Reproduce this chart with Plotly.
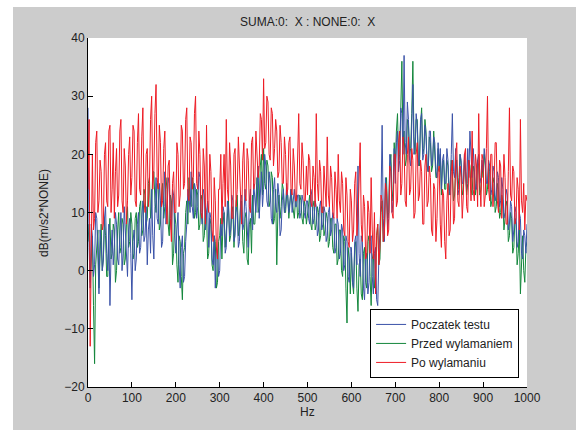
import plotly.graph_objects as go

# Frequency axis (Hz), 2.5 Hz steps
hz = [i * 2.5 for i in range(401)]

poczatek_testu = [
    28, 4, -3, 8, 6, -1, 1, 10, 9, 2, -4, 7, 5, 0, 2, 9, 11, 3, 0, 8,
    -6, 3, 7, 1, 4, 10, 8, 2, 1, 6, 10, 0, 3, 11, 6, 2, -1, 7, 9, 3,
    -5, 5, 7, 0, 2, 8, 10, 3, 4, 9, 12, 5, 6, 11, 1, 7, 9, 3, 14, 6,
    2, 11, 16, 9, 8, 15, 12, 4, 5, 13, 17, 8, 10, 16, 15, 9, 7, 14, 13, 6,
    3, 7, 10, 1, -3, 4, 6, -2, -1, 5, 8, 14, 13, 10, 17, 11, 9, 15, 14, 9,
    11, 17, 16, 10, 8, 14, 13, 7, 10, 12, 4, 10, 9, 2, 1, 6, -3, 4, 3, -1,
    0, 8, 6, 11, 10, 3, 4, 12, 11, 6, 7, 13, 12, 5, 6, 11, 10, 4, 5, 12,
    13, 7, 8, 14, 11, 6, 4, 12, 14, 9, 7, 15, 12, 10, 15, 18, 9, 14, 17, 11,
    14, 20, 18, 12, 11, 17, 15, 9, 8, 14, 16, 11, 10, 15, 13, 6, 7, 12, 14, 10,
    11, 15, 13, 10, 12, 14, 10, 13, 14, 11, 11, 13, 13, 9, 10, 13, 12, 10, 9, 12,
    12, 9, 8, 14, 13, 8, 9, 12, 11, 6, 7, 11, 12, 7, 8, 11, 10, 5, 6, 10,
    11, 6, 7, 10, 9, 3, 4, 9, 8, 2, 3, 8, 7, 0, 1, 6, 5, -1, -2, 4,
    4, -2, -3, 5, 6, 1, 18, 3, -1, 6, 5, -3, -5, 2, 3, -4, -2, 5, 6, -1,
    -4, 3, 4, -5, -6, 2, 8, 12, 25, 9, 5, 16, 14, 7, 9, 20, 18, 10, 12, 21,
    15, 22, 24, 17, 19, 28, 27, 20, 37, 22, 20, 29, 26, 19, 18, 25, 32, 20, 21, 27,
    25, 18, 19, 26, 27, 19, 20, 25, 23, 18, 17, 24, 24, 18, 19, 23, 22, 17, 16, 22,
    18, 21, 14, 19, 20, 15, 15, 21, 19, 14, 13, 20, 27, 17, 16, 21, 18, 13, 14, 20,
    19, 15, 15, 20, 17, 14, 21, 16, 24, 18, 16, 21, 18, 14, 14, 19, 20, 15, 16, 19,
    17, 21, 19, 15, 15, 19, 18, 13, 14, 18, 17, 12, 13, 17, 16, 11, 12, 16, 14, 9,
    10, 14, 13, 7, 8, 12, 11, 5, 7, 11, 10, 4, 5, 10, 9, 3, 2, 7, 6, 3,
    8,
]

przed_wylamaniem = [
    5, 8, -2, 3, 6, -6, -16, 1, 4, 7, -3, 5, 8, 0, 2, 9, 6, -1, -1, 6,
    9, 2, 3, 8, 7, -2, 0, 7, 10, 3, 4, 9, 8, 1, 2, 8, 11, 4, 5, 10,
    8, 2, 3, 9, 10, 4, 5, 11, 12, 6, 7, 14, 13, 8, 9, 15, 16, 9, 11, 17,
    17, 12, 10, 15, 14, 7, 8, 13, 15, 9, 11, 16, 14, 8, 6, 13, 12, 1, 3, 10,
    8, 1, -2, 6, 5, -1, -5, 3, 4, 10, 12, 8, 16, 12, 11, 16, 15, 9, 10, 14,
    13, 7, 8, 13, 12, 5, 6, 11, 10, 2, 3, 9, 8, 1, 0, 6, 5, -3, -2, 5,
    6, 9, 2, 8, 10, 4, 7, 11, 12, 5, 6, 10, 11, 4, 8, 12, 13, 6, 7, 11,
    12, 5, 3, 9, 10, 2, 1, 8, 9, 3, 13, 8, 8, 14, 16, 10, 11, 18, 20, 13,
    21, 15, 14, 19, 18, 11, 12, 17, 16, 8, 9, 14, 1, 10, 13, 9, 11, 15, 14, 10,
    10, 13, 13, 9, 11, 14, 12, 10, 9, 12, 13, 9, 10, 13, 12, 9, 8, 12, 11, 8,
    10, 12, 13, 8, 7, 11, 12, 7, 8, 11, 10, 5, 6, 10, 11, 6, 7, 10, 9, 4,
    5, 9, 9, 4, 3, 8, 8, 1, 2, 7, 7, 0, -1, 6, 5, -3, -9, 4, 2, -4,
    3, -2, -4, 4, 5, -3, -7, 1, 2, -4, -5, 3, 4, -2, -3, 5, 6, -1, -6, 2,
    3, -3, -1, 6, 8, 1, 2, 10, 12, 5, 6, 14, 16, 9, 10, 18, 20, 12, 14, 22,
    18, 24, 27, 19, 20, 28, 36, 22, 24, 18, 19, 26, 25, 20, 21, 27, 36, 23, 20, 26,
    26, 19, 18, 25, 28, 20, 21, 26, 24, 18, 17, 23, 22, 17, 18, 24, 21, 16, 16, 21,
    17, 20, 13, 18, 19, 14, 14, 19, 18, 13, 15, 19, 17, 12, 13, 18, 19, 14, 16, 20,
    18, 13, 14, 19, 17, 13, 15, 19, 18, 14, 13, 18, 17, 13, 15, 19, 18, 13, 14, 18,
    16, 20, 18, 13, 14, 18, 17, 11, 12, 16, 15, 10, 11, 15, 14, 9, 10, 13, 12, 7,
    9, 12, 11, 5, 6, 10, 9, 3, 4, 9, 8, 1, 3, 7, -4, 2, 6, 0, -2, 4,
    5,
]

po_wylamaniu = [
    14, 26, -13, 12, 20, 7, 9, 22, 24, 10, 12, 19, 17, 7, 8, 20, 22, 12, 11, 24,
    25, 10, 14, 22, 9, 17, 21, 11, 13, 24, 26, 12, 10, 21, 18, 8, 12, 20, 23, 13,
    16, 25, 24, 12, 11, 22, 27, 14, 13, 23, 28, 12, 10, 20, 21, 11, 15, 26, 30, 14,
    17, 27, 32, 16, 14, 25, 22, 11, 12, 21, 24, 13, 8, 18, 19, 9, 5, 15, 17, 10,
    10, 22, 20, 11, 13, 25, 24, 14, 15, 26, 28, 13, 12, 23, 22, 14, 16, 27, 30, 15,
    14, 24, 20, 10, 9, 21, 18, 8, 25, 12, 10, 20, 17, 7, 5, 16, 12, 4, 2, 14,
    14, 20, 8, 15, 20, 11, 26, 14, 12, 22, 18, 9, 9, 20, 21, 11, 14, 23, 17, 10,
    8, 19, 22, 13, 12, 21, 19, 11, 10, 22, 23, 14, 15, 24, 21, 16, 18, 27, 26, 19,
    33, 21, 22, 30, 29, 20, 19, 28, 27, 18, 21, 26, 24, 16, 17, 25, 22, 15, 15, 23,
    20, 13, 14, 22, 23, 14, 13, 21, 18, 12, 12, 20, 27, 15, 14, 22, 19, 12, 12, 18,
    13, 20, 19, 12, 11, 18, 16, 11, 27, 15, 12, 19, 17, 10, 10, 18, 15, 11, 23, 13,
    11, 18, 16, 10, 9, 17, 14, 9, 20, 12, 10, 17, 15, 7, 6, 16, 13, 5, 4, 14,
    12, 5, 7, 15, 17, 6, 9, 18, 22, 8, 5, 13, 11, 2, 3, 12, 10, 3, 16, 7,
    2, 10, -4, 6, 8, 1, 4, 13, 12, 5, 6, 15, 14, 6, 7, 18, 17, 10, 9, 20,
    20, 11, 12, 22, 24, 13, 15, 23, 21, 12, 11, 20, 23, 13, 14, 21, 19, 9, 10, 20,
    22, 12, 13, 19, 17, 8, 8, 18, 20, 11, 12, 18, 16, 7, 6, 15, 14, 5, 9, 17,
    18, 8, 4, 14, 13, 5, 2, 12, 15, 6, 7, 17, 19, 8, 9, 20, 22, 12, 11, 18,
    16, 9, 13, 20, 21, 11, 10, 19, 17, 12, 24, 14, 12, 20, 18, 11, 27, 15, 11, 20,
    19, 11, 13, 21, 30, 14, 12, 20, 20, 11, 15, 22, 22, 12, 10, 19, 18, 9, 13, 20,
    16, 8, 8, 17, 28, 13, 12, 18, 17, 8, 9, 16, 14, 7, 26, 12, 10, 15, 7, 13,
    12,
]

# (name, values, colour, legend rank); drawn green first, then blue, then red
series = [
    ("Przed wylamaniem", przed_wylamaniem, "#14873c", 2),
    ("Poczatek testu", poczatek_testu, "#3a52a8", 1),
    ("Po wylamaniu", po_wylamaniu, "#ee1c25", 3),
]

fig = go.Figure()
for name, vals, col, rank in series:
    n = min(len(hz), len(vals))
    fig.add_trace(go.Scatter(x=hz[:n], y=vals[:n], mode="lines", name=name,
                             legendrank=rank, line=dict(color=col, width=1)))

font = "Liberation Sans, Arial, sans-serif"
axis_common = dict(
    showgrid=False, zeroline=False, showline=True, linecolor="black", linewidth=1,
    ticks="inside", ticklen=5, tickcolor="black", mirror=False,
    tickfont=dict(family=font, size=12, color="#222222"),
)

fig.update_layout(
    width=576, height=430,
    margin=dict(l=88, r=49, t=38, b=43),
    paper_bgcolor="#cccccc", plot_bgcolor="white",
    showlegend=True,
    legend=dict(x=0.982, y=0.026, xanchor="right", yanchor="bottom",
                bgcolor="white", bordercolor="black", borderwidth=1,
                font=dict(family=font, size=12, color="#222222"),
                tracegroupgap=0),
    xaxis=dict(range=[0, 1000], tickvals=[0, 100, 200, 300, 400, 500, 600, 700, 800, 900, 1000],
               **axis_common),
    yaxis=dict(range=[-20, 40], tickvals=[-20, -10, 0, 10, 20, 30, 40], **axis_common),
    annotations=[
        dict(text="SUMA:0:\u00a0 X : NONE:0:\u00a0 X", xref="paper", yref="paper",
             x=0.5, y=(387 - 22) / 349, showarrow=False, xanchor="center", yanchor="middle",
             font=dict(family=font, size=12, color="#222222")),
        dict(text="Hz", xref="paper", yref="paper", x=0.5, y=(387 - 412) / 349,
             showarrow=False, xanchor="center", yanchor="middle",
             font=dict(family=font, size=12, color="#222222")),
        dict(text="dB(m/s2*NONE)", xref="paper", yref="paper", x=(44 - 88) / 439,
             y=(387 - 213) / 349, textangle=-90, showarrow=False,
             xanchor="center", yanchor="middle",
             font=dict(family=font, size=12, color="#222222")),
    ],
    shapes=[
        dict(type="rect", xref="paper", yref="paper", x0=-0.3, x1=(13 - 88) / 439,
             y0=-0.3, y1=1.3, fillcolor="white", line=dict(width=0), layer="below"),
        dict(type="rect", xref="paper", yref="paper", x0=-0.3, x1=1.3,
             y0=(387 - 7) / 349, y1=1.3, fillcolor="white", line=dict(width=0), layer="below"),
    ],
)

fig.write_html(
    "out.html",
    config={"displayModeBar": False},
    post_script="document.body.style.margin='0';document.body.style.overflow='hidden';",
)
